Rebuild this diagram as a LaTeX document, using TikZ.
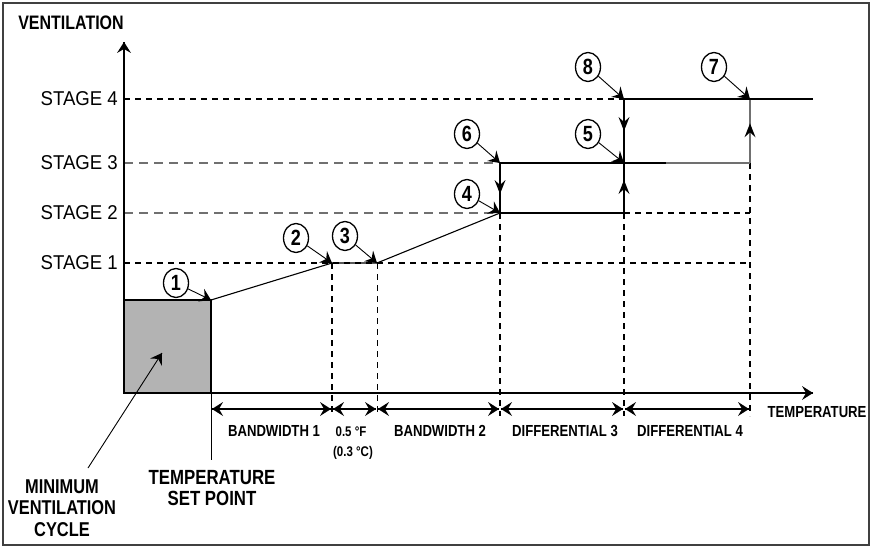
\documentclass[tikz,border=0pt]{standalone}
\usepackage{fontspec}
\setmainfont{Liberation Sans}
\newfontfamily\narrowfont[FakeStretch=0.82]{Liberation Sans}
\newfontfamily\stagefont[FakeStretch=0.93]{Liberation Sans}
\usetikzlibrary{shapes.geometric,decorations.markings}
\definecolor{boxgray}{HTML}{B3B3B3}
\definecolor{linegray}{HTML}{707070}
% filled chevron heads placed along a path
\newcommand{\fwdhead}{\fill (0,0) -- (-11,7) -- (-7,0) -- (-11,-7) -- cycle;}
\newcommand{\backhead}{\fill (0,0) -- (11,7) -- (7,0) -- (11,-7) -- cycle;}
\newcommand{\midhead}{\fill (0,0) -- (-14,5.5) -- (-9,0) -- (-14,-5.5) -- cycle;}
\tikzset{
  endhead/.style={decoration={markings,mark=at position 1 with {\fwdhead}},postaction={decorate}},
  bothheads/.style={decoration={markings,mark=at position 0 with {\backhead},mark=at position 1 with {\fwdhead}},postaction={decorate}},
  midarrow/.style={decoration={markings,mark=at position #1 with {\midhead}},postaction={decorate}},
  frame/.style={draw=black!75,line width=1.4pt},
  axis/.style={line width=1.4pt,endhead},
  curve/.style={line width=1.1pt},
  blackdash/.style={line width=1.3pt,dash pattern=on 6pt off 5pt},
  graydash/.style={line width=1.3pt,draw=linegray,dash pattern=on 9pt off 6pt},
  vdash/.style={line width=1.1pt,dash pattern=on 6pt off 5pt},
  dim/.style={line width=1.6pt,bothheads},
  ptr/.style={line width=0.9pt,endhead},
  num/.style={ellipse,draw,line width=1.3pt,minimum width=25pt,minimum height=29pt,inner sep=0pt,
    font=\narrowfont\bfseries\fontsize{22}{23}\selectfont},
  stagelbl/.style={anchor=east,inner sep=0pt,font=\stagefont\fontsize{20}{22}\selectfont},
  boldlbl/.style={inner sep=0pt,font=\narrowfont\bfseries\fontsize{16}{18}\selectfont},
  biglbl/.style={inner sep=0pt,align=center,font=\narrowfont\bfseries\fontsize{20.5}{21.5}\selectfont}
}
\begin{document}
\begin{tikzpicture}[x=1pt,y=-1pt]
\useasboundingbox (0,0) rectangle (874,548);
\draw[frame] (3,3) rectangle (869,545);

% grid of key points
\coordinate (o) at (124,393);
\coordinate (ytop) at (124,42);
\coordinate (xend) at (813,393);
\coordinate (s1l) at (124,263);
\coordinate (s2l) at (124,213);
\coordinate (s3l) at (124,163);
\coordinate (s4l) at (124,99);
\coordinate (p1) at (211,300);
\coordinate (p2) at (332,263);
\coordinate (p3) at (377,263);
\coordinate (p4) at (500,213);
\coordinate (p6) at (500,163);
\coordinate (p5) at (624,163);
\coordinate (p52) at (624,213);
\coordinate (p8) at (624,99);
\coordinate (p7) at (750,99);
\coordinate (p73) at (750,163);
\coordinate (p72) at (750,213);
\coordinate (p71) at (750,263);
\coordinate (s3mid) at (666,163);
\coordinate (s4end) at (813,99);

% stage reference lines
\draw[blackdash] (s4l) -- (p8);
\draw[graydash] (s3l) -- (p6);
\draw[graydash] (s2l) -- (p4);
\draw[blackdash] (p52) -- (p72);
\draw[blackdash] (s1l) -- (p71);

% temperature marks
\draw[vdash] (p2) -- (332,416);
\draw[vdash,line width=0.9pt] (p3) -- (377,416);
\draw[vdash] (p4) -- (500,416);
\draw[vdash] (p52) -- (624,416);
\draw[vdash] (p73) -- (750,416);
\draw[line width=0.9pt] (p1) -- (211,460);

% minimum ventilation cycle
\draw[fill=boxgray,line width=1.4pt] (o) rectangle (p1);

% axes
\draw[axis] (o) -- (ytop);
\draw[axis,line width=1.2pt] (o) -- (xend);

% ventilation curve
\draw[curve] (p1) -- (p2) -- (p3) -- (p4);
\draw[curve,midarrow=0.62] (p6) -- (p4);
\draw[curve] (p4) -- (p52);
\draw[line width=2pt] (p6) -- (s3mid);
\draw[line width=2pt,draw=linegray] (s3mid) -- (p73);
\draw[curve,midarrow=0.66] (p52) -- (p5);
\draw[curve,midarrow=0.5] (p8) -- (p5);
\draw[line width=1.5pt,draw=linegray,midarrow=0.62] (p73) -- (p7);
\draw[curve] (p8) -- (s4end);

% axis labels
\node[boldlbl,font=\narrowfont\bfseries\fontsize{19.5}{20}\selectfont] (vlab) at (71,23) {VENTILATION};
\node[boldlbl] (tlab) at (817,412) {TEMPERATURE};
\node[stagelbl] (st4) at (118,99) {STAGE 4};
\node[stagelbl] (st3) at (118,163) {STAGE 3};
\node[stagelbl] (st2) at (118,213) {STAGE 2};
\node[stagelbl] (st1) at (118,263) {STAGE 1};

% numbered points
\node[num] (c1) at (176,283) {1};
\node[num] (c2) at (296,238) {2};
\node[num] (c3) at (345,236) {3};
\node[num] (c4) at (467,194) {4};
\node[num] (c6) at (467,134) {6};
\node[num] (c5) at (588,134) {5};
\node[num] (c8) at (588,67) {8};
\node[num] (c7) at (714,67) {7};
\draw[ptr] (c1) -- (p1);
\draw[ptr] (c2) -- (p2);
\draw[ptr] (c3) -- (p3);
\draw[ptr] (c4) -- (p4);
\draw[ptr] (c6) -- (p6);
\draw[ptr] (c5) -- (p5);
\draw[ptr] (c8) -- (p8);
\draw[ptr] (c7) -- (p7);

% band dimensions
\coordinate (d0) at (212,409);
\coordinate (d1) at (331,409);
\coordinate (d2) at (333,409);
\coordinate (d3) at (376,409);
\coordinate (d4) at (378,409);
\coordinate (d5) at (499,409);
\coordinate (d6) at (501,409);
\coordinate (d7) at (623,409);
\coordinate (d8) at (625,409);
\coordinate (d9) at (749,409);
\draw[dim] (d0) -- (d1);
\draw[dim] (d2) -- (d3);
\draw[dim] (d4) -- (d5);
\draw[dim] (d6) -- (d7);
\draw[dim] (d8) -- (d9);
\node[boldlbl] (bw1) at (274,431) {BANDWIDTH 1};
\node[boldlbl,font=\narrowfont\bfseries\fontsize{14}{15}\selectfont] (hf) at (351,432) {0.5 °F};
\node[boldlbl,font=\narrowfont\bfseries\fontsize{14}{15}\selectfont] (hc) at (353,453) {(0.3 °C)};
\node[boldlbl] (bw2) at (440,431) {BANDWIDTH 2};
\node[boldlbl] (df3) at (565,431) {DIFFERENTIAL 3};
\node[boldlbl] (df4) at (690,431) {DIFFERENTIAL 4};

% bottom captions
\node[biglbl] (setp) at (212,488) {TEMPERATURE\\SET POINT};
\node[biglbl,font=\narrowfont\bfseries\fontsize{20}{21.5}\selectfont] (minv) at (62,508) {MINIMUM\\VENTILATION\\CYCLE};
\coordinate (mvtail) at (88,468);
\coordinate (mvtip) at (162,353);
\draw[ptr] (mvtail) -- (mvtip);
\end{tikzpicture}
\end{document}
